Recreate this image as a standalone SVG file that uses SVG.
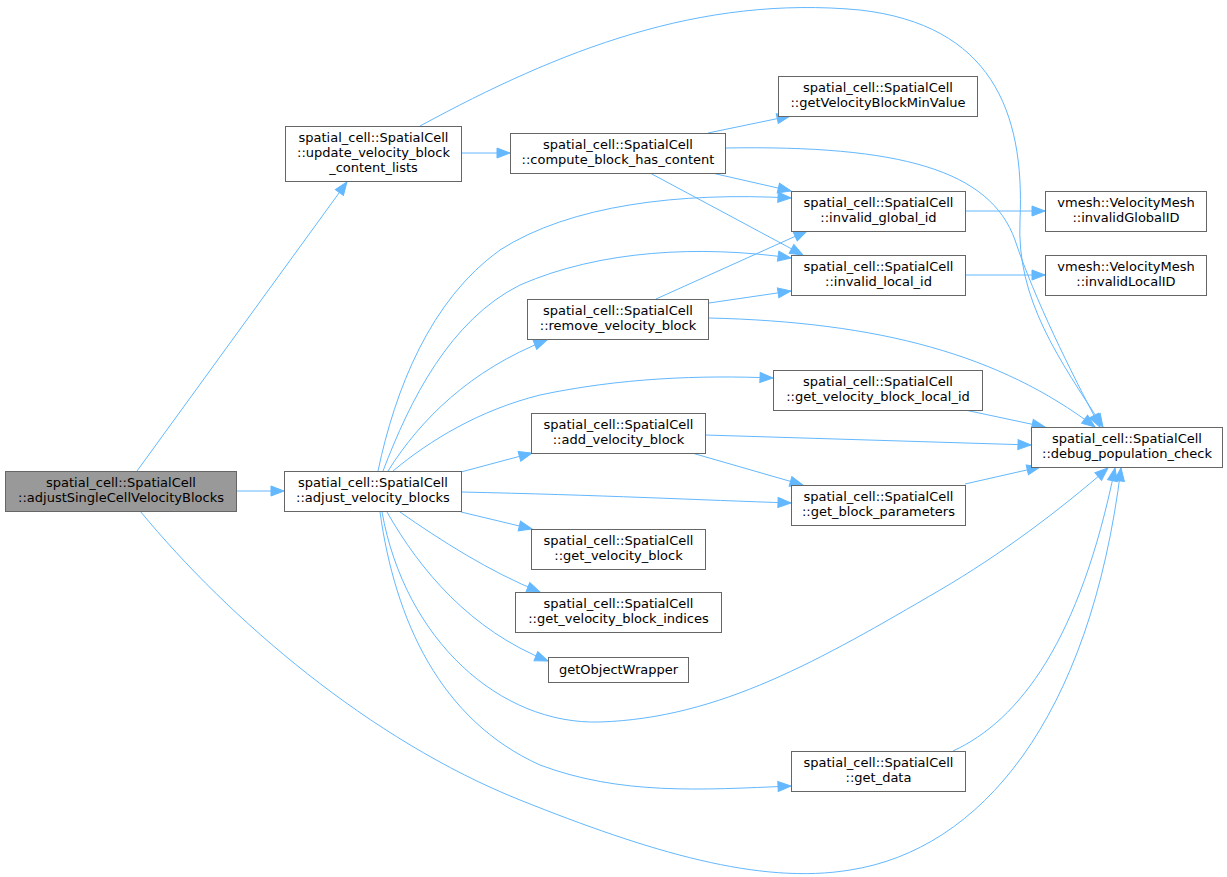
<svg xmlns="http://www.w3.org/2000/svg" width="1227" height="877" viewBox="0 0 1227 877">
<style>
.node rect{fill:#ffffff;stroke:#666666;stroke-width:1}
.node.hl rect{fill:#999999}
.node text{font-family:"DejaVu Sans",Verdana,sans-serif;font-size:13px;fill:#000000;text-anchor:middle}
.edges path{fill:none;stroke:#63b8ff;stroke-width:1;marker-end:url(#arr)}
</style>
<defs>
<marker id="arr" markerUnits="userSpaceOnUse" markerWidth="16" markerHeight="12" refX="13" refY="5" orient="auto" overflow="visible">
<path d="M0,0 L13,5 L0,10 z" fill="#63b8ff" stroke="#63b8ff" stroke-width="1"/>
</marker>
</defs>
<rect width="1227" height="877" fill="#ffffff"/>
<g class="edges" id="edges">
<path d="M137,471 L347,182"/>
<path d="M236,491 L284,491"/>
<path d="M140,511 C230,620 370,740 520,800 C650,852 760,885 850,870 C980,850 1090,720 1121,468"/>
<path d="M461,153 L510,153"/>
<path d="M420,126 C560,50 700,-5 860,10 C990,25 1025,110 1020,220 C1016,300 1060,360 1103,427"/>
<path d="M708,133 L790,116"/>
<path d="M712,173 L791,191"/>
<path d="M650,173 L803,255"/>
<path d="M725,148 C900,145 990,170 1015,240 C1035,300 1070,370 1100,427"/>
<path d="M965,211 L1045,211"/>
<path d="M965,275 L1045,275"/>
<path d="M378,471 C395,390 430,300 500,250 C570,205 680,192 791,198"/>
<path d="M383,471 C410,400 450,320 520,285 C600,250 700,245 791,258"/>
<path d="M388,471 C420,420 470,370 547,340"/>
<path d="M656,299 L807,231"/>
<path d="M709,303 L791,291"/>
<path d="M709,318 C880,322 1000,355 1095,427"/>
<path d="M393,471 C430,440 480,410 540,395 C620,378 700,375 773,378"/>
<path d="M965,410 L1045,427"/>
<path d="M461,472 L532,453"/>
<path d="M705,435 L1031,445"/>
<path d="M692,453 L803,485"/>
<path d="M461,492 C600,495 700,500 791,503"/>
<path d="M965,484 L1040,467"/>
<path d="M461,512 L532,529"/>
<path d="M400,512 C440,540 490,572 540,592"/>
<path d="M387,512 C420,570 470,630 548,661"/>
<path d="M382,512 C405,640 500,725 600,722 C720,718 820,660 940,590 C1000,555 1060,510 1108,468"/>
<path d="M380,512 C395,620 440,720 540,765 C620,795 700,790 791,786"/>
<path d="M953,751 C1020,720 1080,640 1115,468"/>
</g>
<g class="node hl" id="node_adjustSingleCellVelocityBlocks">
<rect x="5.5" y="471.5" width="231" height="40"/>
<text x="121" y="487">spatial_cell::SpatialCell</text>
<text x="121" y="502">::adjustSingleCellVelocityBlocks</text>
</g>
<g class="node" id="node_adjust_velocity_blocks">
<rect x="284.5" y="471.5" width="177" height="40"/>
<text x="373" y="487">spatial_cell::SpatialCell</text>
<text x="373" y="502">::adjust_velocity_blocks</text>
</g>
<g class="node" id="node_update_velocity_block_content_lists">
<rect x="285.5" y="126.5" width="176" height="55"/>
<text x="373.5" y="142">spatial_cell::SpatialCell</text>
<text x="373.5" y="157">::update_velocity_block</text>
<text x="373.5" y="172">_content_lists</text>
</g>
<g class="node" id="node_compute_block_has_content">
<rect x="510.5" y="133.5" width="215" height="40"/>
<text x="618" y="149">spatial_cell::SpatialCell</text>
<text x="618" y="164">::compute_block_has_content</text>
</g>
<g class="node" id="node_getVelocityBlockMinValue">
<rect x="778.5" y="76.5" width="199" height="40"/>
<text x="878" y="92">spatial_cell::SpatialCell</text>
<text x="878" y="107">::getVelocityBlockMinValue</text>
</g>
<g class="node" id="node_invalid_global_id">
<rect x="791.5" y="191.5" width="174" height="40"/>
<text x="878.5" y="207">spatial_cell::SpatialCell</text>
<text x="878.5" y="222">::invalid_global_id</text>
</g>
<g class="node" id="node_invalid_local_id">
<rect x="791.5" y="255.5" width="174" height="40"/>
<text x="878.5" y="271">spatial_cell::SpatialCell</text>
<text x="878.5" y="286">::invalid_local_id</text>
</g>
<g class="node" id="node_invalidGlobalID">
<rect x="1045.5" y="191.5" width="161" height="40"/>
<text x="1126" y="207">vmesh::VelocityMesh</text>
<text x="1126" y="222">::invalidGlobalID</text>
</g>
<g class="node" id="node_invalidLocalID">
<rect x="1045.5" y="255.5" width="161" height="40"/>
<text x="1126" y="271">vmesh::VelocityMesh</text>
<text x="1126" y="286">::invalidLocalID</text>
</g>
<g class="node" id="node_remove_velocity_block">
<rect x="527.5" y="299.5" width="181" height="40"/>
<text x="618" y="315">spatial_cell::SpatialCell</text>
<text x="618" y="330">::remove_velocity_block</text>
</g>
<g class="node" id="node_get_velocity_block_local_id">
<rect x="773.5" y="370.5" width="209" height="40"/>
<text x="878" y="386">spatial_cell::SpatialCell</text>
<text x="878" y="401">::get_velocity_block_local_id</text>
</g>
<g class="node" id="node_add_velocity_block">
<rect x="531.5" y="413.5" width="174" height="40"/>
<text x="618.5" y="429">spatial_cell::SpatialCell</text>
<text x="618.5" y="444">::add_velocity_block</text>
</g>
<g class="node" id="node_get_block_parameters">
<rect x="791.5" y="485.5" width="174" height="40"/>
<text x="878.5" y="501">spatial_cell::SpatialCell</text>
<text x="878.5" y="516">::get_block_parameters</text>
</g>
<g class="node" id="node_get_velocity_block">
<rect x="531.5" y="529.5" width="174" height="40"/>
<text x="618.5" y="545">spatial_cell::SpatialCell</text>
<text x="618.5" y="560">::get_velocity_block</text>
</g>
<g class="node" id="node_get_velocity_block_indices">
<rect x="515.5" y="592.5" width="206" height="40"/>
<text x="618.5" y="608">spatial_cell::SpatialCell</text>
<text x="618.5" y="623">::get_velocity_block_indices</text>
</g>
<g class="node" id="node_getObjectWrapper">
<rect x="548.5" y="657.5" width="140" height="25"/>
<text x="618.5" y="674">getObjectWrapper</text>
</g>
<g class="node" id="node_get_data">
<rect x="791.5" y="751.5" width="174" height="40"/>
<text x="878.5" y="767">spatial_cell::SpatialCell</text>
<text x="878.5" y="782">::get_data</text>
</g>
<g class="node" id="node_debug_population_check">
<rect x="1031.5" y="427.5" width="191" height="40"/>
<text x="1127" y="443">spatial_cell::SpatialCell</text>
<text x="1127" y="458">::debug_population_check</text>
</g>
</svg>
